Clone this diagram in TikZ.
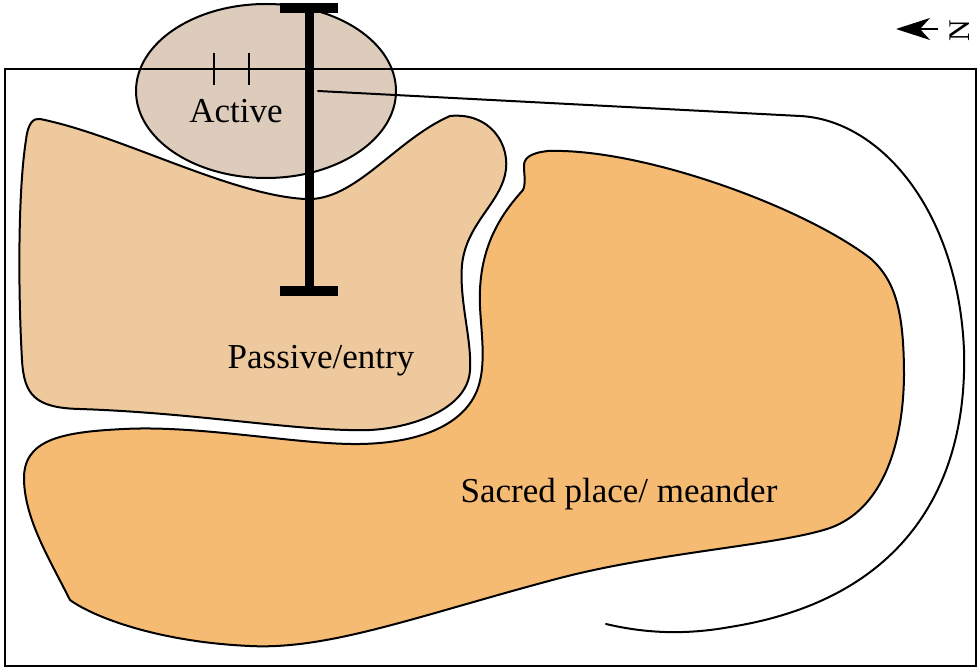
\documentclass[tikz,border=0pt]{standalone}
\usepackage{fontspec}
\setmainfont{Liberation Serif}
\usetikzlibrary{arrows.meta}
\definecolor{activefill}{HTML}{DDCCBC}
\definecolor{passivefill}{HTML}{EFC99E}
\definecolor{sacredfill}{HTML}{F5BB73}
\tikzset{
  region/.style={draw=black, line width=2pt, line join=round},
  lbl/.style={font=\fontsize{35}{40}\selectfont, anchor=base, inner sep=0pt},
  beam/.style={line width=9pt, draw=black},
}
\begin{document}
\begin{tikzpicture}[x=1pt,y=-1pt]
\useasboundingbox (0,0) rectangle (980,668);
% passive / entry
\path[region, fill=passivefill]
 (40,119) .. controls (120,135) and (230,195) .. (305,199)
 .. controls (355,202) and (395,140) .. (450,116)
 .. controls (490,112) and (512,145) .. (505,175)
 .. controls (498,205) and (466,225) .. (462,265)
 .. controls (459,300) and (472,340) .. (470,370)
 .. controls (468,410) and (410,428) .. (370,430)
 .. controls (300,432) and (200,413) .. (80,409)
 .. controls (35,408) and (24,395) .. (22,360)
 .. controls (18,290) and (18,190) .. (26,140)
 .. controls (28,122) and (34,118) .. (40,119) -- cycle;
% sacred place / meander
\path[region, fill=sacredfill]
 (524,168) .. controls (523,158) and (530,153) .. (548,151)
 .. controls (640,148) and (800,205) .. (870,258)
 .. controls (895,280) and (904,310) .. (904,376)
 .. controls (903,450) and (880,510) .. (830,528)
 .. controls (780,545) and (660,552) .. (560,578)
 .. controls (420,615) and (330,650) .. (250,646)
 .. controls (160,642) and (95,618) .. (70,600)
 .. controls (50,560) and (25,520) .. (24,480)
 .. controls (23,440) and (60,432) .. (124,429)
 .. controls (200,425) and (300,445) .. (360,444)
 .. controls (420,443) and (460,425) .. (475,395)
 .. controls (490,365) and (478,320) .. (480,290)
 .. controls (482,240) and (505,210) .. (523,190)
 .. controls (526,184) and (524,172) .. (524,168) -- cycle;
% active
\coordinate (actc) at (266,91);
\path[region, fill=activefill] (actc) ellipse [x radius=130pt, y radius=87pt];
% frame
\draw[line width=2.5pt] (5,69) rectangle (976,666);
% ticks
\draw[line width=2pt] (214,53) -- (214,85) (249,53) -- (249,85);
% enclosing line
\coordinate (encstart) at (318,91);
\coordinate (encend) at (606,624);
\draw[line width=2pt, line cap=round] (encstart) -- (800,116)
 .. controls (880,120) and (958,210) .. (964,350)
 .. controls (968,490) and (900,600) .. (730,627)
 .. controls (680,636) and (640,632) .. (encend);
% I-beam
\coordinate (btop) at (309,8);
\coordinate (bbot) at (309,291);
\draw[beam] (btop) -- (bbot);
\draw[line width=10pt] (280,8) -- (338,8);
\draw[line width=10pt] (280,291) -- (338,291);
% labels
\node[lbl] (tact) at (236,123) {Active};
\node[lbl] (tpas) at (321,368) {Passive/entry};
\node[lbl] (tsac) at (619,502) {Sacred place/ meander};
% north arrow
\coordinate (nstart) at (938,29);
\coordinate (nend) at (896,29);
\draw[line width=2pt, -{Stealth[length=34pt, width=22pt, inset=10pt]}] (nstart) -- (nend);
\node[font=\fontsize{30}{34}\selectfont, rotate=90, inner sep=0pt] (north) at (960,31) {N};
\end{tikzpicture}
\end{document}
